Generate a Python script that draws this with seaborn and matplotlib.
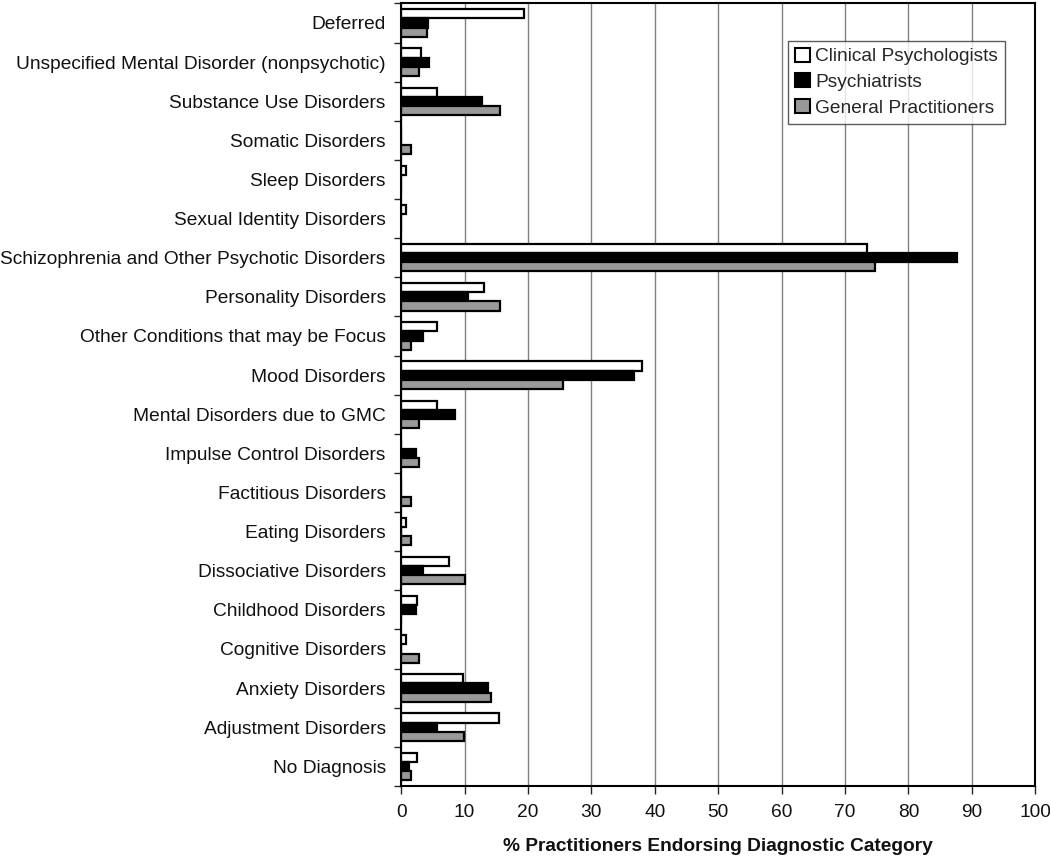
import pandas as pd
import matplotlib.pyplot as plt
import seaborn as sns
from matplotlib.patches import Patch

categories = ["Deferred", "Unspecified Mental Disorder (nonpsychotic)", "Substance Use Disorders",
              "Somatic Disorders", "Sleep Disorders", "Sexual Identity Disorders",
              "Schizophrenia and Other Psychotic Disorders", "Personality Disorders",
              "Other Conditions that may be Focus", "Mood Disorders", "Mental Disorders due to GMC",
              "Impulse Control Disorders", "Factitious Disorders", "Eating Disorders",
              "Dissociative Disorders", "Childhood Disorders", "Cognitive Disorders",
              "Anxiety Disorders", "Adjustment Disorders", "No Diagnosis"]
groups = ["Clinical Psychologists", "Psychiatrists", "General Practitioners"]

psychologists = [19.4, 3.2, 5.6, 0, 0.8, 0.8, 73.4, 13.0, 5.6, 38.0,
                 5.6, 0, 0, 0.8, 7.5, 2.5, 0.8, 9.8, 15.5, 2.5]
psychiatrists = [4.3, 4.4, 12.7, 0, 0, 0, 87.6, 10.6, 3.4, 36.7,
                 8.5, 2.3, 0, 0, 3.4, 2.3, 0, 13.7, 5.6, 1.2]
general = [4.1, 2.9, 15.6, 1.5, 0, 0, 74.7, 15.6, 1.5, 25.6,
           2.9, 2.9, 1.5, 1.5, 10.0, 0, 2.9, 14.2, 9.9, 1.5]

colors = ["white", "black", "#999999"]

df = pd.DataFrame({"category": categories, groups[0]: psychologists,
                   groups[1]: psychiatrists, groups[2]: general})
df_long = df.melt(id_vars="category", var_name="group", value_name="value")

sns.set_style("white")
plt.rcParams['font.family'] = ['Liberation Sans', 'DejaVu Sans']
fs = 13.8

fig = plt.figure(figsize=(10.5, 8.57), dpi=100)
ax = fig.add_axes([0.382, 0.083, 0.604, 0.913])
sns.barplot(data=df_long, y="category", x="value", hue="group", order=categories,
            hue_order=groups, palette=colors, orient="h", width=0.7,
            edgecolor="black", linewidth=1.6, errorbar=None, ax=ax)

ax.set_xlim(0, 100)
ax.set_ylim(len(categories) - 0.5, -0.5)
ax.set_xticks(range(0, 101, 10))
ax.xaxis.grid(True, color="#808080", linewidth=1)
ax.set_axisbelow(True)
ax.set_yticks(range(len(categories)))
ax.set_yticklabels(categories)
ax.set_yticks([i + 0.5 for i in range(-1, len(categories))], minor=True)
ax.tick_params(axis="y", which="major", length=0, pad=11, labelsize=fs, labelcolor="#111111")
ax.tick_params(axis="y", which="minor", length=5, width=1, direction="out", left=True)
ax.tick_params(axis="x", length=6, width=1, direction="out", bottom=True, labelsize=fs,
               pad=7, labelcolor="#111111")
ax.set_ylabel("")
ax.set_xlabel("% Practitioners Endorsing Diagnostic Category", fontsize=fs,
              fontweight="bold", labelpad=12, color="#111111")
for s in ax.spines.values():
    s.set_color("black")
    s.set_linewidth(1.5)

handles = [Patch(facecolor=c, edgecolor="black", linewidth=1.5) for c in colors]
leg = ax.legend(handles, groups, loc="upper right", bbox_to_anchor=(0.952, 0.952),
                fontsize=fs, frameon=True, fancybox=False, edgecolor="#333333",
                handlelength=0.75, handleheight=0.75, handletextpad=0.3,
                borderpad=0.35, labelspacing=0.42, borderaxespad=0)
leg.get_frame().set_linewidth(1.0)

plt.savefig("out.png", dpi=100)
